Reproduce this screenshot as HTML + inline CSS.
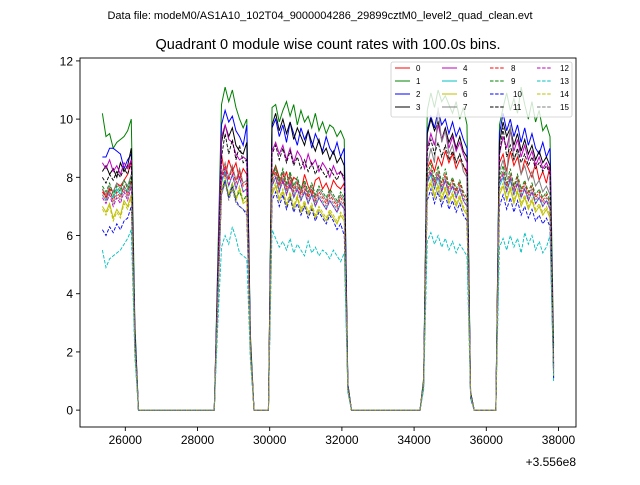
<!DOCTYPE html>
<html><head><meta charset="utf-8"><style>
body{margin:0;background:#fff;width:640px;height:480px;overflow:hidden;font-family:"Liberation Sans","DejaVu Sans",sans-serif}
</style></head><body>
<svg id="chart" width="640" height="480" xmlns="http://www.w3.org/2000/svg" font-family="Liberation Sans, DejaVu Sans, sans-serif">
<rect width="640" height="480" fill="#fff"/>
<text x="320" y="19" font-size="11" text-anchor="middle">Data file: modeM0/AS1A10_102T04_9000004286_29899cztM0_level2_quad_clean.evt</text>
<text x="328" y="49" font-size="14.5" text-anchor="middle">Quadrant 0 module wise count rates with 100.0s bins.</text>
<g id="plot"></g>
<g id="axes"></g>
<g id="legend"></g>
<text x="576" y="466" font-size="12" text-anchor="end">+3.556e8</text>
</svg>
<script>
const xStart = 25365, binSize = 100;
const xTicks = [26000, 28000, 30000, 32000, 34000, 36000, 38000];
const yTicks = [0, 2, 4, 6, 8, 10, 12];
const seriesNames = ["0","1","2","3","4","5","6","7","8","9","10","11","12","13","14","15"];
const colors = ["#ff0000","#008000","#0000ff","#000000","#bf00bf","#00bfbf","#bfbf00","#808080","#ff0000","#008000","#0000ff","#000000","#bf00bf","#00bfbf","#bfbf00","#808080"];
const Z22=[0,0,0,0,0,0,0,0,0,0,0,0,0,0,0,0,0,0,0,0,0,0];
const Z20=[0,0,0,0,0,0,0,0,0,0,0,0,0,0,0,0,0,0,0,0];
const Z7=[0,0,0,0,0,0,0];
const Z5=[0,0,0,0,0];
const s0 = [7.6,7.3,7.6,7.5,7.8,7.7,7.9,8.1,8.6,2.5,...Z22,4.5,8.8,8.0,8.6,8.2,8.5,7.9,8.3,8.1,2.2,...Z5,8.1,8.4,8.0,7.8,8.2,7.6,8.0,7.9,7.5,8.1,7.7,7.4,7.9,8.0,7.6,7.8,7.5,7.9,7.7,7.6,7.8,0.8,...Z20,1.0,8.3,8.6,8.2,8.7,8.4,8.9,8.5,8.8,8.3,8.6,8.4,8.1,0.5,...Z7,8.5,8.8,8.2,8.9,8.4,8.7,8.1,8.6,8.3,8.0,8.5,7.9,8.2,7.8,8.4,1.8];
const s1 = [10.2,9.4,9.5,9.0,9.2,9.3,9.4,9.6,10.0,3.0,...Z22,5.3,10.5,11.1,10.6,11.0,10.4,10.0,9.7,10.0,2.6,...Z5,10.4,10.5,9.9,10.3,10.6,10.1,10.5,9.8,10.3,9.9,10.1,9.7,10.2,9.6,9.9,9.5,9.8,9.7,9.4,9.6,9.3,0.9,...Z20,1.1,10.3,10.9,10.4,11.0,10.6,10.8,10.5,10.2,10.6,10.0,10.4,9.8,0.6,...Z7,9.8,10.4,10.9,10.3,10.7,10.2,11.1,10.5,10.0,10.6,9.9,10.3,9.6,9.8,9.4,2.2];
const s2 = [8.7,8.7,9.0,9.0,8.9,8.8,8.3,8.6,8.8,2.8,...Z22,4.9,9.8,10.3,9.9,10.1,9.6,9.4,9.1,9.8,2.4,...Z5,9.7,10.0,9.4,9.8,9.2,9.9,9.5,9.1,9.7,9.3,9.6,9.0,9.5,9.2,8.9,9.4,9.0,8.8,9.2,8.7,9.0,0.9,...Z20,1.0,9.6,10.1,9.7,10.3,9.8,10.0,9.5,9.9,9.4,9.7,9.3,9.0,0.6,...Z7,9.5,10.2,9.6,10.0,9.4,9.8,9.2,9.7,9.1,9.5,9.0,8.8,9.2,8.7,9.0,1.1];
const s3 = [8.2,8.4,8.1,8.3,8.0,8.5,8.2,8.4,9.0,2.6,...Z22,4.7,9.2,9.8,9.4,9.7,9.1,8.9,8.8,9.2,2.3,...Z5,9.8,10.2,9.6,10.0,9.5,9.9,9.3,9.7,9.4,9.1,9.6,9.2,8.9,9.3,8.8,9.0,8.6,8.9,8.5,8.7,8.4,0.8,...Z20,1.0,9.5,10.0,9.6,9.9,9.3,9.7,9.2,9.5,9.0,9.4,8.9,8.7,0.6,...Z7,9.2,9.9,9.4,9.7,9.1,9.5,8.9,9.3,8.8,9.1,8.6,8.9,8.5,8.7,8.4,1.5];
const s4 = [8.5,8.3,8.6,8.2,8.4,8.1,8.5,8.3,8.6,2.5,...Z22,4.6,9.4,9.8,9.3,9.2,8.8,8.6,8.7,8.6,2.2,...Z5,8.9,9.2,8.8,9.1,8.6,9.0,8.5,8.9,8.7,8.3,8.8,8.4,8.6,8.2,8.5,8.3,8.0,8.4,8.1,8.2,7.9,0.8,...Z20,1.0,9.0,9.5,9.1,9.8,9.3,9.6,9.0,9.4,8.9,9.2,8.8,8.5,0.5,...Z7,8.8,9.4,9.0,9.6,8.9,9.3,8.7,9.1,8.6,8.9,8.4,8.7,8.3,8.5,8.2,1.6];
const s5 = [7.4,7.2,7.5,7.3,7.6,7.4,7.7,7.5,7.9,2.3,...Z22,4.0,7.8,8.2,7.7,8.1,7.6,8.0,7.5,7.6,2.1,...Z5,7.7,8.0,7.5,7.9,7.4,7.8,7.3,7.6,7.2,7.5,7.1,7.4,7.0,7.3,7.1,6.9,7.2,7.0,6.8,7.1,6.9,0.7,...Z20,0.9,7.8,8.1,7.6,8.0,7.5,7.9,7.4,7.7,7.3,7.6,7.2,7.0,0.5,...Z7,7.7,8.0,7.5,7.9,7.4,7.8,7.3,7.6,7.2,7.5,7.1,7.3,7.0,7.2,6.9,1.3];
const s6 = [7.0,6.8,7.1,6.6,6.9,6.7,7.2,7.0,7.4,2.2,...Z22,3.8,7.5,7.9,7.3,7.7,7.2,7.6,7.1,7.2,2.0,...Z5,7.4,7.7,7.2,7.5,7.0,7.4,6.9,7.3,6.8,7.1,6.7,7.0,6.6,6.9,6.7,6.5,6.8,6.6,6.4,6.7,6.5,0.7,...Z20,0.9,7.5,7.8,7.3,7.7,7.2,7.6,7.1,7.4,7.0,7.3,6.9,6.7,0.5,...Z7,7.4,7.7,7.2,7.6,7.1,7.5,7.0,7.3,6.9,7.2,6.8,7.0,6.7,6.9,6.6,1.2];
const s7 = [7.6,7.4,7.7,7.5,7.8,7.6,7.9,7.7,8.1,2.4,...Z22,4.1,8.1,8.5,8.0,8.4,7.9,8.3,7.8,7.9,2.2,...Z5,8.0,8.3,7.8,8.2,7.7,8.1,7.6,7.9,7.5,7.8,7.4,7.7,7.3,7.6,7.4,7.2,7.5,7.3,7.1,7.4,7.2,0.8,...Z20,1.0,8.4,9.0,8.5,10.4,9.2,9.6,8.8,9.1,8.5,8.8,8.2,8.0,0.5,...Z7,8.2,8.6,8.0,9.8,8.6,8.9,8.1,8.4,7.9,8.2,7.7,7.9,7.5,7.7,7.4,1.4];
const s8 = [7.5,7.3,7.6,7.2,7.5,7.3,7.7,7.4,7.9,2.3,...Z22,4.0,8.0,8.4,7.9,8.3,7.8,8.2,7.7,7.8,2.1,...Z5,7.9,8.2,7.7,8.1,7.6,8.0,7.5,7.8,7.4,7.7,7.3,7.6,7.2,7.5,7.3,7.1,7.4,7.2,7.0,7.3,7.1,0.7,...Z20,0.9,8.0,8.3,7.8,8.2,7.7,8.1,7.6,7.9,7.5,7.8,7.4,7.2,0.5,...Z7,7.9,8.2,7.7,8.1,7.6,8.0,7.5,7.8,7.4,7.7,7.3,7.5,7.2,7.4,7.1,1.4];
const s9 = [7.7,7.5,7.8,7.4,7.7,7.5,7.9,7.6,8.0,2.4,...Z22,4.1,7.6,7.9,7.4,7.8,7.3,7.5,7.2,7.4,2.2,...Z5,8.0,8.4,7.9,8.3,7.8,8.2,7.7,8.0,7.6,7.9,7.5,7.8,7.4,7.7,7.5,7.3,7.6,7.4,7.2,7.5,7.3,0.8,...Z20,1.0,8.1,8.5,7.9,8.4,7.8,8.3,7.7,8.0,7.6,7.9,7.5,7.3,0.5,...Z7,8.0,8.4,7.8,8.3,7.7,8.1,7.6,7.9,7.5,7.8,7.4,7.6,7.3,7.5,7.2,1.4];
const s10 = [6.2,6.0,6.3,6.1,6.4,6.2,6.5,6.6,7.0,2.0,...Z22,3.7,7.4,7.9,7.3,7.7,7.2,7.0,6.9,6.7,1.9,...Z5,7.2,7.5,7.0,7.4,6.9,7.3,6.8,7.1,6.7,7.0,6.6,6.9,6.5,6.8,6.6,6.4,6.7,6.5,6.2,6.4,6.0,0.7,...Z20,0.8,7.2,7.6,7.1,7.5,7.0,7.4,6.9,7.2,6.8,7.1,6.7,6.5,0.4,...Z7,7.0,7.4,6.9,7.3,6.8,7.2,6.7,7.0,6.6,6.9,6.5,6.7,6.4,6.6,6.3,1.1];
const s11 = [8.0,7.8,8.1,7.9,8.2,8.0,8.3,8.1,8.5,2.5,...Z22,4.4,8.7,9.5,8.8,9.3,8.6,9.1,8.5,8.6,2.3,...Z5,8.8,9.1,8.6,9.0,8.5,8.9,8.4,8.7,8.3,8.6,8.2,8.5,8.1,8.4,8.2,8.0,8.3,8.1,7.9,8.2,8.0,0.8,...Z20,1.0,8.9,9.3,8.8,9.2,8.7,9.1,8.6,8.9,8.5,8.8,8.4,8.2,0.5,...Z7,8.8,9.7,8.7,9.1,8.6,9.0,8.5,8.8,8.4,8.7,8.3,8.5,8.2,8.4,8.1,1.5];
const s12 = [7.3,7.1,7.4,7.0,7.3,7.1,7.5,7.2,7.7,2.2,...Z22,4.0,7.9,8.3,7.7,8.1,7.6,8.0,7.5,7.6,2.1,...Z5,7.7,8.0,7.5,7.9,7.4,7.8,7.3,7.6,7.2,7.5,7.1,7.4,7.0,7.3,7.1,6.9,7.2,7.0,6.8,7.1,6.9,0.7,...Z20,0.9,7.8,8.2,7.6,8.1,7.5,7.9,7.4,7.7,7.3,7.6,7.2,7.0,0.5,...Z7,7.8,8.1,7.5,8.0,7.4,7.8,7.3,7.6,7.2,7.5,7.1,7.3,7.0,7.2,6.9,1.3];
const s13 = [5.5,4.9,5.2,5.3,5.4,5.5,5.7,5.9,6.2,1.8,...Z22,3.0,5.6,6.0,5.7,6.3,5.9,5.4,5.3,5.2,1.7,...Z5,6.2,5.9,5.6,5.8,5.5,5.9,5.4,5.7,5.5,5.3,5.8,5.4,5.6,5.3,5.5,5.4,5.2,5.5,5.3,5.1,5.4,0.6,...Z20,0.7,5.8,6.1,5.7,6.0,5.6,5.9,5.5,5.8,5.4,5.7,5.5,5.3,0.4,...Z7,5.6,5.9,5.5,6.0,5.6,5.9,5.4,6.1,5.7,6.0,5.5,5.8,5.4,5.6,6.0,1.0];
const s14 = [6.9,6.7,7.0,6.5,6.8,6.6,7.1,6.9,7.3,2.1,...Z22,3.8,7.6,8.0,7.4,7.8,7.3,7.7,7.2,7.3,2.0,...Z5,7.5,7.8,7.3,7.6,7.1,7.5,7.0,7.4,6.9,7.2,6.8,7.1,6.7,7.0,6.8,6.6,6.9,6.7,6.5,6.8,6.6,0.7,...Z20,0.9,7.6,7.9,7.4,7.8,7.3,7.7,7.2,7.5,7.1,7.4,7.0,6.8,0.5,...Z7,7.5,7.8,7.3,7.7,7.2,7.6,7.1,7.4,7.0,7.3,6.9,7.1,6.8,7.0,6.7,1.2];
const s15 = [7.4,7.2,7.5,7.1,7.4,7.2,7.6,7.3,7.8,2.3,...Z22,4.0,7.4,7.8,7.2,7.6,7.1,7.0,6.9,6.8,2.1,...Z5,7.8,8.1,7.6,8.0,7.5,7.9,7.4,7.7,7.3,7.6,7.2,7.5,7.1,7.4,7.2,7.0,7.3,7.1,6.9,7.2,7.0,0.7,...Z20,0.9,7.9,8.3,7.7,8.2,7.6,8.0,7.5,7.8,7.4,7.7,7.3,7.1,0.5,...Z7,7.9,8.2,7.6,8.1,7.5,7.9,7.4,7.7,7.3,7.6,7.2,7.4,7.1,7.3,7.0,1.3];
const seriesValues = [s0,s1,s2,s3,s4,s5,s6,s7,s8,s9,s10,s11,s12,s13,s14,s15];

const L=80,R=576,T=58,B=427;
const xMin=24745,xMax=38485,yMin=-0.58,yMax=12.1;
function xs(v){return L+(v-xMin)/(xMax-xMin)*(R-L);}
function ys(v){return B-(v-yMin)/(yMax-yMin)*(B-T);}
const NS="http://www.w3.org/2000/svg";
function mk(tag,attrs,parent){const e=document.createElementNS(NS,tag);for(const k in attrs)e.setAttribute(k,attrs[k]);parent.appendChild(e);return e;}
const plot=document.getElementById('plot'), axes=document.getElementById('axes'), legend=document.getElementById('legend');

seriesValues.forEach((vals,si)=>{
  const d=vals.map((v,i)=>(i?'L':'M')+xs(xStart+i*binSize).toFixed(2)+' '+ys(v).toFixed(2)).join(' ');
  const p=mk('path',{d:d,fill:'none',stroke:colors[si],'stroke-width':si<8?1:0.9},plot);
  if(si>=8)p.setAttribute('stroke-dasharray','3.5,1.6');
  
  
});

const frame=mk('rect',{x:L,y:T,width:R-L,height:B-T,fill:'none',stroke:'#000','stroke-width':0.9},axes);


xTicks.forEach(t=>{
  const x=xs(t);
  const tk=mk('line',{x1:x,x2:x,y1:B,y2:B+4,stroke:'#000','stroke-width':0.9},axes);
  
  
  const tx=mk('text',{x:x,y:B+17,'font-size':12,'text-anchor':'middle'},axes);
  tx.textContent=t;
  
  
});
yTicks.forEach(t=>{
  const y=ys(t);
  const tk=mk('line',{x1:L-4,x2:L,y1:y,y2:y,stroke:'#000','stroke-width':0.9},axes);
  
  
  const tx=mk('text',{x:L-7,y:y+4.5,'font-size':12,'text-anchor':'end'},axes);
  tx.textContent=t;
  
  
});

const lb=mk('rect',{x:391,y:62,width:181,height:55,rx:2,fill:'#fff','fill-opacity':0.8,stroke:'#ccc','stroke-width':0.8},legend);


const colX=[395,442,490,537], rowY=[68,81,94,107];
seriesNames.forEach((n,si)=>{
  const c=Math.floor(si/4), r=si%4, x=colX[c], y=rowY[r];
  const g=mk('g',{},legend);
  
  
  const ln=mk('line',{x1:x,x2:x+15,y1:y,y2:y,stroke:colors[si],'stroke-width':1},g);
  if(si>=8)ln.setAttribute('stroke-dasharray','3.5,1.6');
  const tx=mk('text',{x:x+(si>=10?23:21),y:y+3,'font-size':8},g);
  tx.textContent=n;
});
</script>
</body></html>
